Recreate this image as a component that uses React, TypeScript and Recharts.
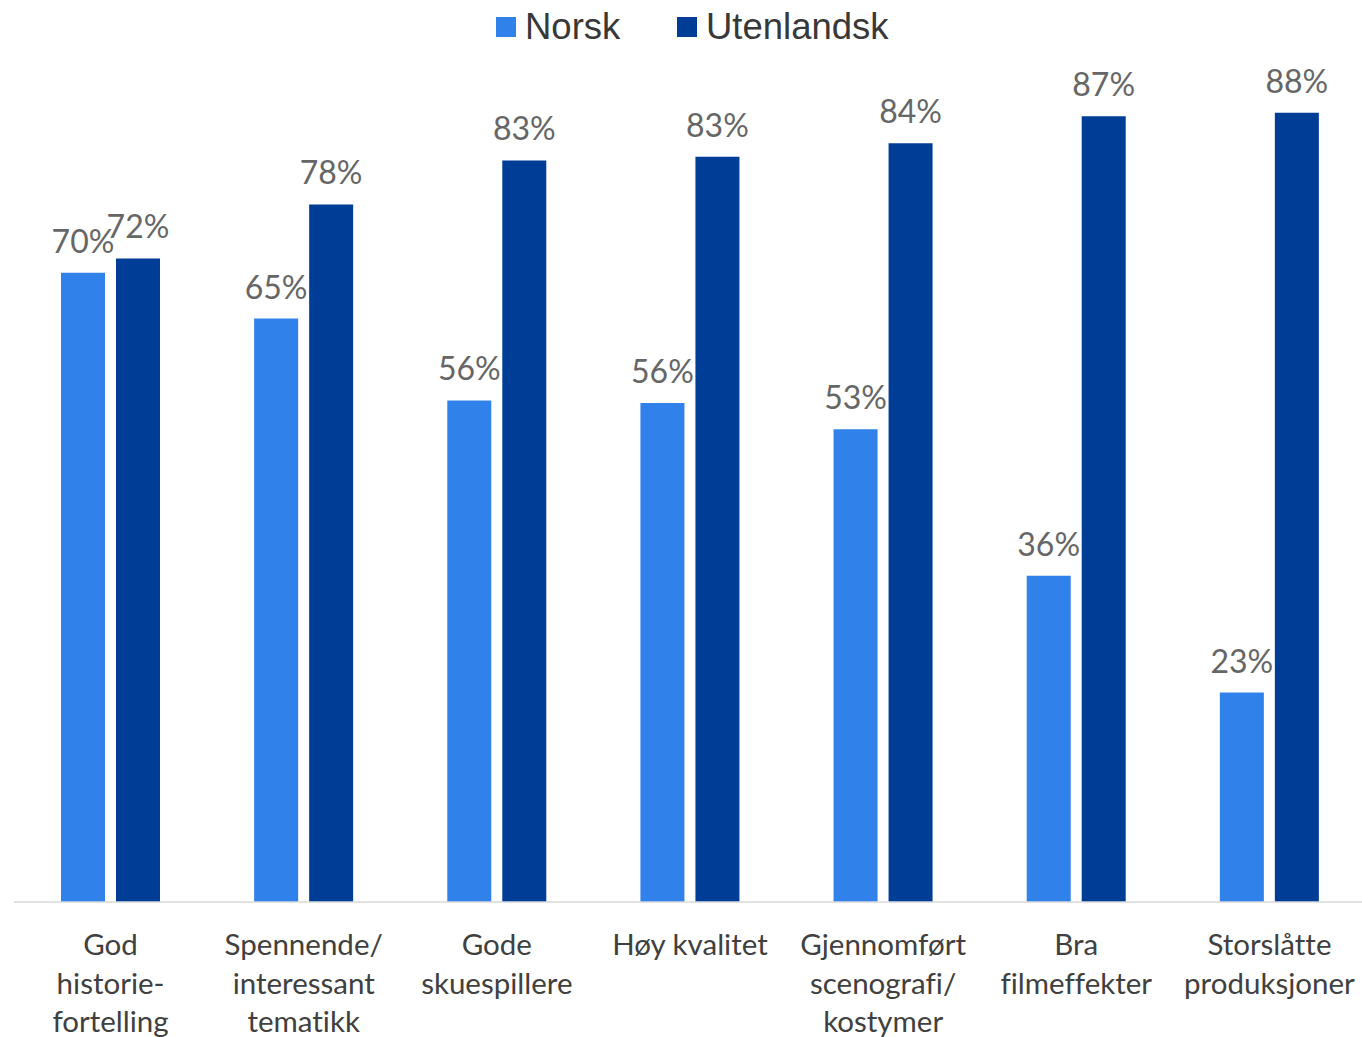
import { BarChart, Bar, XAxis, YAxis, LabelList, Legend } from 'recharts';

const categories = [
    'God\nhistorie-\nfortelling',
    'Spennende/\ninteressant\ntematikk',
    'Gode\nskuespillere',
    'Høy kvalitet',
    'Gjennomført\nscenografi/\nkostymer',
    'Bra\nfilmeffekter',
    'Storslåtte\nproduksjoner',
];
const norsk = [70.0, 64.9, 55.8, 55.5, 52.6, 36.3, 23.3];
const utenlandsk = [71.6, 77.6, 82.5, 82.9, 84.4, 87.4, 87.8];

const chartData = categories.map((name, i) => ({
    name,
    norsk: norsk[i],
    utenlandsk: utenlandsk[i],
}));

const LABEL_FONT = 'Lato, "Open Sans", sans-serif';

function CategoryTick({ x, y, payload }: any) {
    const lines = String(payload.value).split('\n');
    return (
        <text
            x={x}
            y={y}
            textAnchor="middle"
            fill="#404040"
            fontSize={29.5}
            fontFamily={LABEL_FONT}
            style={{ fontVariantLigatures: 'none' }}
        >
            {lines.map((line, i) => (
                <tspan key={i} x={x} dy={i === 0 ? 45 : 38.5}>
                    {line}
                </tspan>
            ))}
        </text>
    );
}

function LegendContent({ payload }: any) {
    const lefts = [496, 677];
    return (
        <div style={{ position: 'relative', height: 0 }}>
            {(payload || []).map((entry: any, i: number) => (
                <div
                    key={entry.value}
                    style={{
                        position: 'absolute',
                        left: lefts[i],
                        top: 5,
                        display: 'flex',
                        alignItems: 'center',
                        whiteSpace: 'nowrap',
                    }}
                >
                    <span style={{ width: 20, height: 20, background: entry.color, display: 'inline-block', marginRight: 9 }} />
                    <span style={{ fontFamily: '"Liberation Sans", Arial, sans-serif', fontSize: 36.5, color: '#383838', lineHeight: '44px' }}>
                        {entry.value}
                    </span>
                </div>
            ))}
        </div>
    );
}

export default function App() {
    return (
        <div style={{ position: 'absolute', left: 0, top: 0, width: 1362, height: 1037, overflow: 'hidden', background: '#fff' }}>
            <BarChart
                width={1366}
                height={1037}
                data={chartData}
                margin={{ top: 93, right: 0, left: 14, bottom: 0 }}
                barSize={44}
                barGap={11}
            >
                <XAxis
                    dataKey="name"
                    axisLine={{ stroke: '#d9d9d9', strokeWidth: 1.5 }}
                    tickLine={false}
                    interval={0}
                    height={135}
                    tick={<CategoryTick />}
                />
                <YAxis hide domain={[0, 90]} />
                <Legend
                    verticalAlign="top"
                    content={<LegendContent />}
                    wrapperStyle={{ top: 0, left: 0, width: 1362, height: 0 }}
                />
                <Bar dataKey="norsk" name="Norsk" fill="#3181EA" isAnimationActive={false}>
                    <LabelList
                        dataKey="norsk"
                        position="top"
                        offset={20}
                        formatter={(v: any) => `${Math.round(Number(v))}%`}
                        fill="#666666"
                        fontSize={32}
                        fontFamily={LABEL_FONT}
                    />
                </Bar>
                <Bar dataKey="utenlandsk" name="Utenlandsk" fill="#003D97" isAnimationActive={false}>
                    <LabelList
                        dataKey="utenlandsk"
                        position="top"
                        offset={20}
                        formatter={(v: any) => `${Math.round(Number(v))}%`}
                        fill="#666666"
                        fontSize={32}
                        fontFamily={LABEL_FONT}
                    />
                </Bar>
            </BarChart>
        </div>
    );
}
